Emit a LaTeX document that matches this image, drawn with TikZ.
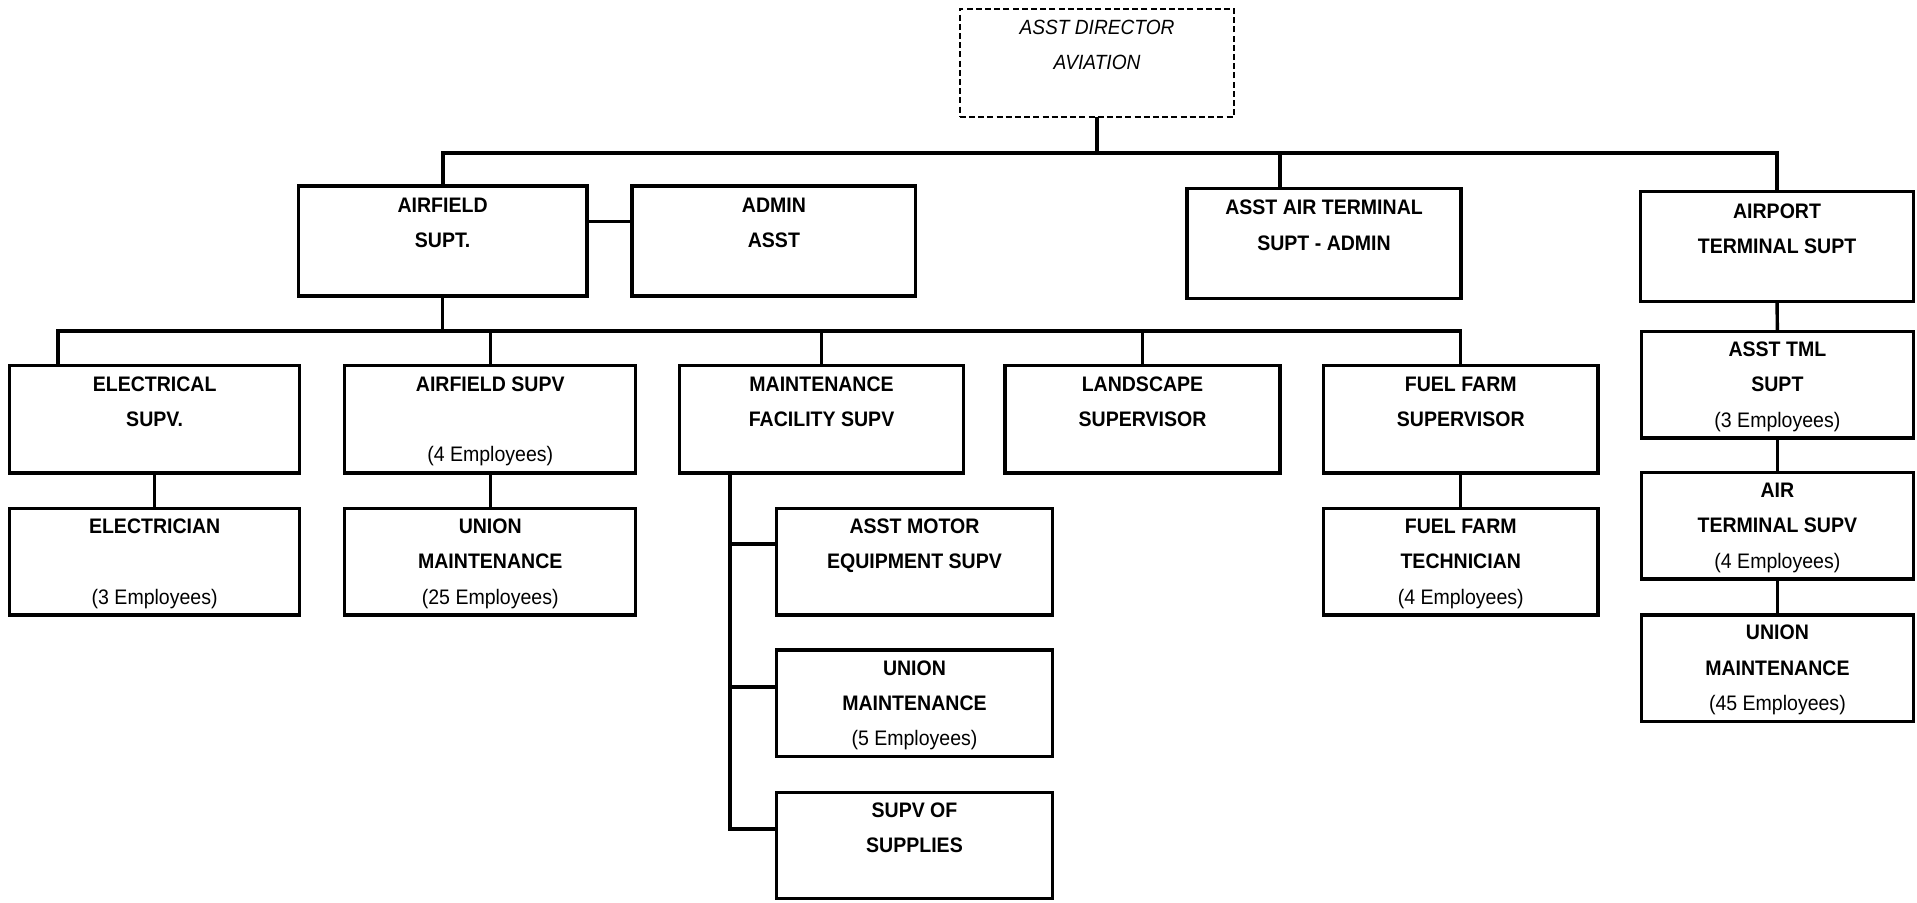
\documentclass[tikz,border=0pt]{standalone}
\usepackage{fontspec}
\setmainfont{Liberation Sans}[FakeStretch=0.93]
\renewcommand\arraystretch{1.475}
% three text rows of fixed pitch inside a box
\newcommand\rows[3]{\begin{tabular}{@{}c@{}}\mbox{}#1\\\mbox{}#2\\\mbox{}#3\end{tabular}}
\newcommand\emp[1]{{\mdseries #1}}

\begin{document}
\begin{tikzpicture}[x=0.6113pt, y=-0.6113pt,
  every node/.style={inner sep=0pt, outer sep=0pt},
  unit/.style 2 args={draw, rectangle, line width=1.7pt,
    minimum width=#1*0.6113pt, minimum height=#2*0.6113pt,
    font=\fontsize{10.5}{12}\selectfont\bfseries},
  head/.style 2 args={draw, rectangle, line width=0.9pt,
    dash pattern=on 3pt off 1.6pt,
    minimum width=#1*0.6113pt, minimum height=#2*0.6113pt,
    font=\fontsize{10.3}{12}\selectfont\itshape},
  link/.style={line width=1.7pt},
  trunk/.style={line width=2pt}]

\useasboundingbox (0,0) rectangle (1568,738);
\fill[white] (0,0) rectangle (1568,738);

% director
\node[head={224.6}{88}] (dir) at (897.3,51.4) {\rows{ASST DIRECTOR}{AVIATION}{}};

% second level
\node[unit={236}{90}] (afs) at (362,197) {\rows{AIRFIELD}{SUPT.}{}};
\node[unit={232}{90}] (adm) at (633,197) {\rows{ADMIN}{ASST}{}};
\node[unit={224}{90}] (aat) at (1083,199) {\rows{ASST AIR TERMINAL}{SUPT - ADMIN}{}};
\node[unit={223}{90}] (apt) at (1453.5,201.8) {\rows{AIRPORT}{TERMINAL SUPT}{}};

% airfield supervisors
\node[unit={237}{88}] (els) at (126.5,343) {\rows{ELECTRICAL}{SUPV.}{}};
\node[unit={238}{88}] (afv) at (401,343) {\rows{AIRFIELD SUPV}{}{\emp{(4 Employees)}}};
\node[unit={232}{88}] (mfs) at (672,343) {\rows{MAINTENANCE}{FACILITY SUPV}{}};
\node[unit={225}{88}] (lds) at (934.5,343) {\rows{LANDSCAPE}{SUPERVISOR}{}};
\node[unit={224.4}{88}] (ffs) at (1194.8,343) {\rows{FUEL FARM}{SUPERVISOR}{}};

% staff under the supervisors
\node[unit={237}{87}] (elc) at (126.5,459.5) {\rows{ELECTRICIAN}{}{\emp{(3 Employees)}}};
\node[unit={238}{87}] (um25) at (401,459.5) {\rows{UNION}{MAINTENANCE}{\emp{(25 Employees)}}};
\node[unit={224.4}{87}] (fft) at (1194.8,459.5) {\rows{FUEL FARM}{TECHNICIAN}{\emp{(4 Employees)}}};
\node[unit={226}{87}] (amo) at (748,459.5) {\rows{ASST MOTOR}{EQUIPMENT SUPV}{}};
\node[unit={226}{87}] (um5) at (748,575.3) {\rows{UNION}{MAINTENANCE}{\emp{(5 Employees)}}};
\node[unit={226}{87}] (sup) at (748,691.5) {\rows{SUPV OF}{SUPPLIES}{}};

% terminal column
\node[unit={222.3}{86}] (tml) at (1453.8,314.8) {\rows{ASST TML}{SUPT}{\emp{(3 Employees)}}};
\node[unit={222.3}{86}] (ats) at (1453.8,430) {\rows{AIR}{TERMINAL SUPV}{\emp{(4 Employees)}}};
\node[unit={222.3}{87}] (um45) at (1453.8,546.5) {\rows{UNION}{MAINTENANCE}{\emp{(45 Employees)}}};

% bus heights and off-centre drops
\coordinate (busA) at (0,124.9);
\coordinate (busB) at (0,270.6);
\coordinate (adl) at (0,181.3);
\coordinate (aatx) at (1047,0);
\coordinate (elx) at (47.5,0);
\coordinate (mx) at (597,0);
\coordinate (b1) at ([shift={(0,29)}]amo.north west);
\coordinate (b2) at ([shift={(0,30)}]um5.north west);
\coordinate (b3) at ([shift={(0,30)}]sup.north west);

% top bus
\draw[trunk] (dir.south) -- (dir.south |- busA);
\draw[trunk] (afs.north) -- (afs.north |- busA) -- (apt.north |- busA) -- (apt.north);
\draw[trunk] (aatx |- busA) -- (aatx |- aat.north);
\draw[link] (afs.east |- adl) -- (adm.west |- adl);

% airfield bus
\draw[link] (afs.south) -- (afs.south |- busB);
\draw[link] (elx |- els.north) -- (elx |- busB) -- (ffs.north |- busB) -- (ffs.north);
\draw[link] (afv.north) -- (afv.north |- busB);
\draw[link] (mfs.north) -- (mfs.north |- busB);
\draw[link] (lds.north) -- (lds.north |- busB);

% single drops
\draw[link] (els.south) -- (elc.north);
\draw[link] (afv.south) -- (um25.north);
\draw[link] (ffs.south) -- (fft.north);

% maintenance side branch
\draw[link] (mx |- mfs.south) -- (mx |- b3) -- (b3);
\draw[link] (mx |- b1) -- (b1);
\draw[link] (mx |- b2) -- (b2);

% terminal chain
\draw[link] (apt.south) -- (tml.north);
\draw[link] (tml.south) -- (ats.north);
\draw[link] (ats.south) -- (um45.north);
\end{tikzpicture}
\end{document}
